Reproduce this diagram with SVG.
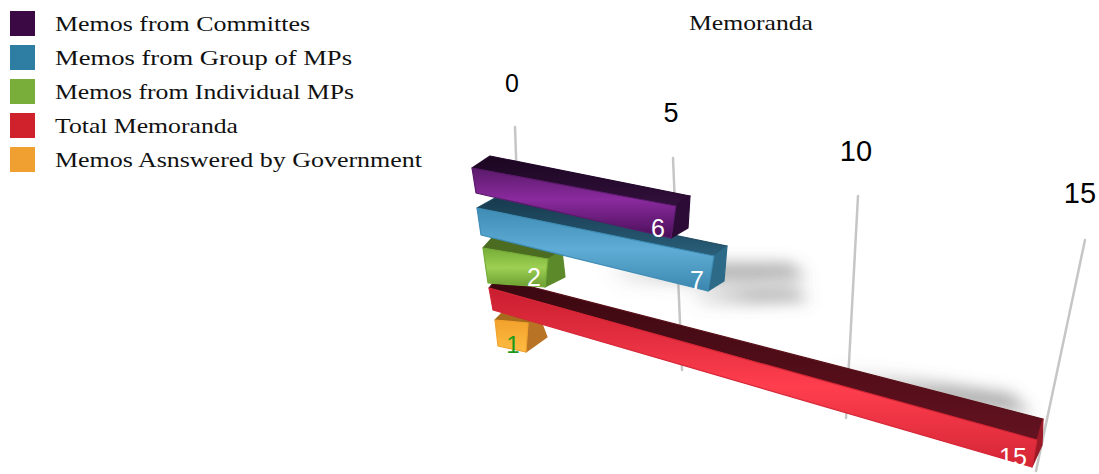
<svg xmlns="http://www.w3.org/2000/svg" width="1099" height="474" viewBox="0 0 1099 474">
<style>
.leg{font-family:"Liberation Serif",serif;font-size:21px;fill:#111}
.ax{font-family:"Liberation Sans",Arial,sans-serif;fill:#000}
.val{font-family:"Liberation Sans",Arial,sans-serif;font-size:25px;fill:#fff}
.grid{stroke:#c6c6c6;stroke-width:2.5;stroke-linecap:round}
.edge{stroke-linejoin:round;stroke-width:1.2}
</style>
<defs>
<filter id="blur" x="-30%" y="-150%" width="160%" height="400%"><feGaussianBlur stdDeviation="8"/></filter>
<linearGradient id="sh" x1="0" y1="0" x2="1" y2="0"><stop offset="0" stop-color="#777" stop-opacity="0"/><stop offset="0.6" stop-color="#666" stop-opacity="0.55"/><stop offset="1" stop-color="#666" stop-opacity="0.6"/></linearGradient>
<linearGradient id="pF" x1="0" y1="0" x2="0" y2="1"><stop offset="0" stop-color="#5a1a6a"/><stop offset="0.45" stop-color="#8a2a9e"/><stop offset="1" stop-color="#4a0f58"/></linearGradient>
<linearGradient id="pT" x1="0" y1="0" x2="0" y2="1"><stop offset="0" stop-color="#1a0620"/><stop offset="1" stop-color="#33103d"/></linearGradient>
<linearGradient id="bF" x1="0" y1="0" x2="0" y2="1"><stop offset="0" stop-color="#3e8cb4"/><stop offset="0.5" stop-color="#5fadd6"/><stop offset="1" stop-color="#3a86ae"/></linearGradient>
<linearGradient id="bT" x1="0" y1="0" x2="0" y2="1"><stop offset="0" stop-color="#173a4e"/><stop offset="1" stop-color="#2a5f7a"/></linearGradient>
<linearGradient id="gF" x1="0" y1="0" x2="0" y2="1"><stop offset="0" stop-color="#76ad38"/><stop offset="0.5" stop-color="#9ccf52"/><stop offset="1" stop-color="#6c9e32"/></linearGradient>
<linearGradient id="rF" x1="0" y1="0" x2="0" y2="1"><stop offset="0" stop-color="#c81e30"/><stop offset="0.55" stop-color="#ff3e4e"/><stop offset="1" stop-color="#d42636"/></linearGradient>
<linearGradient id="rT" x1="0" y1="0" x2="0" y2="1"><stop offset="0" stop-color="#3a0810"/><stop offset="1" stop-color="#641220"/></linearGradient>
<linearGradient id="oF" x1="0" y1="0" x2="0" y2="1"><stop offset="0" stop-color="#f2a22c"/><stop offset="1" stop-color="#ffbc42"/></linearGradient>
</defs>

<rect width="1099" height="474" fill="#fff"/>

<g id="legend">
<rect x="10" y="11" width="25" height="25" fill="#3b0a45"/>
<text class="leg" x="55" y="31" textLength="255" lengthAdjust="spacingAndGlyphs">Memos from Committes</text>
<rect x="10" y="45" width="25" height="25" fill="#2e7ea3"/>
<text class="leg" x="55" y="65" textLength="297" lengthAdjust="spacingAndGlyphs">Memos from Group of MPs</text>
<rect x="10" y="79" width="25" height="25" fill="#7aae3a"/>
<text class="leg" x="55" y="99" textLength="299" lengthAdjust="spacingAndGlyphs">Memos from Individual MPs</text>
<rect x="10" y="113" width="25" height="25" fill="#d0222d"/>
<text class="leg" x="55" y="133" textLength="183" lengthAdjust="spacingAndGlyphs">Total Memoranda</text>
<rect x="10" y="147" width="25" height="25" fill="#f0a030"/>
<text class="leg" x="55" y="167" textLength="367" lengthAdjust="spacingAndGlyphs">Memos Asnswered by Government</text>
</g>

<text id="title" x="751" y="30" text-anchor="middle" font-family="Liberation Serif,serif" font-size="21" fill="#111" textLength="124" lengthAdjust="spacingAndGlyphs">Memoranda</text>

<g id="axis">
<text class="ax" x="512" y="92" text-anchor="middle" font-size="25">0</text>
<text class="ax" x="671" y="122" text-anchor="middle" font-size="27">5</text>
<text class="ax" x="856" y="161" text-anchor="middle" font-size="29">10</text>
<text class="ax" x="1080" y="203" text-anchor="middle" font-size="29">15</text>
</g>

<g id="connectors">
<line class="grid" x1="515" y1="127" x2="522" y2="330"/>
<line class="grid" x1="673" y1="158" x2="682" y2="370"/>
<line class="grid" x1="858" y1="196" x2="846" y2="418"/>
<line class="grid" x1="1085" y1="240" x2="1036" y2="471"/>
</g>

<g id="shadows" filter="url(#blur)">
<polygon points="600,262 790,264 808,278 620,284" fill="url(#sh)"/>
<polygon points="680,287 795,289 810,300 700,305" fill="url(#sh)"/>
<polygon points="820,366 1010,394 1032,414 850,392" fill="url(#sh)"/>
</g>

<g id="bar-orange" class="edge">
<polygon points="502,313 539,316 528,323 495,320" fill="#a86a1c" stroke="#a86a1c"/>
<polygon points="528,323 539,316 547,337 526,352" fill="#b87424" stroke="#b87424"/>
<polygon points="495,320 528,323 526,352 498,346" fill="url(#oF)" stroke="#f2a22c"/>
<text x="513" y="353" text-anchor="middle" font-family="Liberation Sans,Arial,sans-serif" font-size="24" fill="#1a9a1a">1</text>
</g>

<g id="bar-red" class="edge">
<polygon points="497,278 1043,419 1037,440 489,288" fill="url(#rT)" stroke="#5a1018"/>
<polygon points="1037,440 1043,419 1042,445 1032,467" fill="#9a1a28" stroke="#9a1a28"/>
<polygon points="489,288 1037,440 1032,467 493,310" fill="url(#rF)" stroke="#d42636"/>
<text class="val" x="1013" y="466" text-anchor="middle">15</text>
</g>

<g id="bar-green" class="edge">
<polygon points="492,238 562,251 548,259 483,248" fill="#4c6c22" stroke="#4c6c22"/>
<polygon points="548,259 562,251 565,277 545,287" fill="#5c8a2a" stroke="#5c8a2a"/>
<polygon points="483,248 548,259 545,287 488,283" fill="url(#gF)" stroke="#76ad38"/>
<text class="val" x="534" y="286" text-anchor="middle">2</text>
</g>

<g id="bar-blue" class="edge">
<polygon points="495,198 727,246 714,256 477,208" fill="url(#bT)" stroke="#1f4a60"/>
<polygon points="714,256 727,246 724,281 708,291" fill="#2c6a88" stroke="#2c6a88"/>
<polygon points="477,208 714,256 708,291 481,235" fill="url(#bF)" stroke="#3e8cb4"/>
<text class="val" x="697" y="289" text-anchor="middle">7</text>
</g>

<g id="bar-purple" class="edge">
<polygon points="490,156 690,196 676,206 472,168" fill="url(#pT)" stroke="#24082c"/>
<polygon points="676,206 690,196 688,228 671,238" fill="#2c0c36" stroke="#2c0c36"/>
<polygon points="472,168 676,206 671,238 476,193" fill="url(#pF)" stroke="#5a1a6a"/>
<text class="val" x="658" y="237" text-anchor="middle">6</text>
</g>
</svg>
